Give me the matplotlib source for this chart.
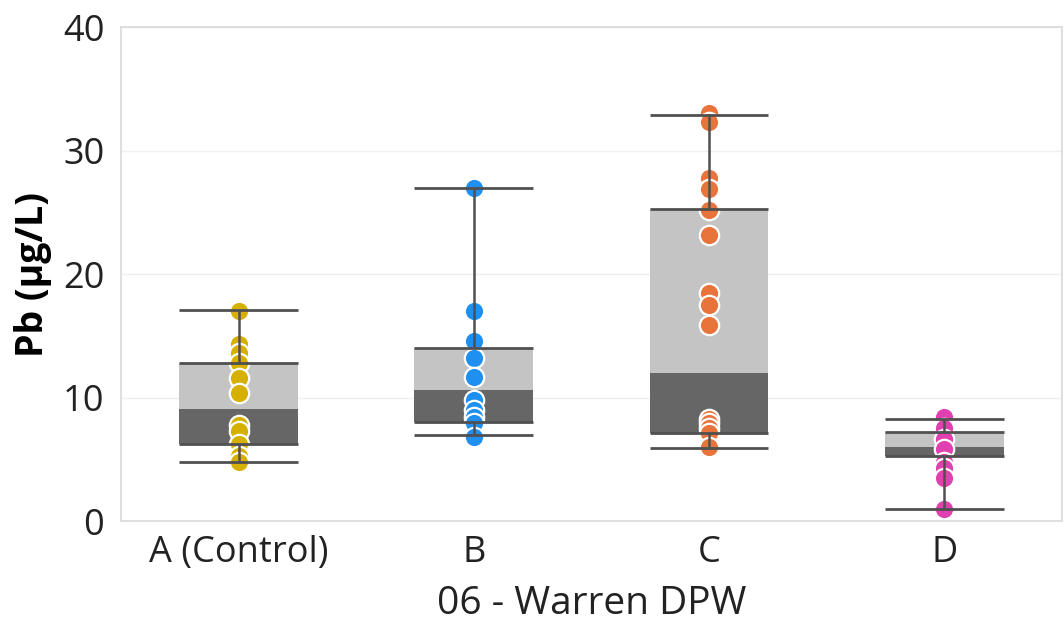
import matplotlib.pyplot as plt

# sites and sample values of Pb (ug/L)
sites = ["A (Control)", "B", "C", "D"]
colors = ["#d6b000", "#1f8ff0", "#e8743b", "#e040b0"]

pb_a = [17.0, 14.3, 13.6, 12.8, 11.6, 10.4, 7.8, 7.3, 6.2, 5.3, 4.8]
pb_b = [27.0, 17.0, 14.6, 13.2, 11.7, 9.8, 9.0, 8.4, 7.9, 6.8]
pb_c = [33.0, 32.3, 27.8, 26.9, 25.2, 23.2, 18.5, 17.5, 15.9, 8.3, 7.9, 7.5, 7.1, 6.0]
pb_d = [8.4, 7.5, 6.6, 5.8, 4.8, 4.3, 3.5, 1.0]
samples = [pb_a, pb_b, pb_c, pb_d]

# box statistics per site
whisker_low = [4.8, 7.0, 5.9, 1.0]
q1 = [6.2, 8.0, 7.1, 5.3]
median = [9.1, 10.6, 12.0, 6.0]
q3 = [12.8, 14.0, 25.3, 7.2]
whisker_high = [17.1, 27.0, 32.9, 8.3]

plt.rcParams['font.family'] = ['Open Sans', 'DejaVu Sans']

fig = plt.figure(figsize=(10.64, 6.29), dpi=100)
ax = fig.add_axes([0.1137, 0.1717, 0.8843, 0.7853])

pos = list(range(len(sites)))
w = 0.505
line_col = "#505050"

# two-tone boxes: Q1-median dark, median-Q3 light
ax.bar(pos, [m - a for m, a in zip(median, q1)], bottom=q1, width=w,
       color="#666666", zorder=1)
ax.bar(pos, [b - m for b, m in zip(q3, median)], bottom=median, width=w,
       color="#c4c4c4", zorder=1)

for i, vals in enumerate(samples):
    ax.scatter([i] * len(vals), vals, s=195, color=colors[i],
               edgecolor="white", linewidth=1.6, zorder=2)

ax.vlines(pos, whisker_low, q1, color=line_col, lw=1.8, zorder=3)
ax.vlines(pos, q3, whisker_high, color=line_col, lw=1.8, zorder=3)
for vals in [whisker_low, q1, q3, whisker_high]:
    ax.hlines(vals, [p - w / 2 for p in pos], [p + w / 2 for p in pos],
              color=line_col, lw=2.0, zorder=3)

ax.set_xlim(-0.5, len(sites) - 0.5)
ax.set_ylim(0, 40)
ax.set_yticks([0, 10, 20, 30, 40])
ax.set_xticks(pos)
ax.set_xticklabels(sites)
ax.yaxis.grid(True, color="#efefef", lw=1.0)
ax.set_axisbelow(True)
ax.tick_params(length=0, labelsize=26, colors="#222222")
ax.tick_params(axis='y', pad=12)
ax.tick_params(axis='x', pad=10)
for sp in ax.spines.values():
    sp.set_color("#dcdcdc")
    sp.set_linewidth(1.3)

ax.set_xlabel("06 - Warren DPW", fontsize=28, color="#222222", labelpad=10)
ax.set_ylabel("Pb (µg/L)", fontsize=27, fontweight="bold", color="black",
              labelpad=8)

fig.savefig("out.png", dpi=100)
